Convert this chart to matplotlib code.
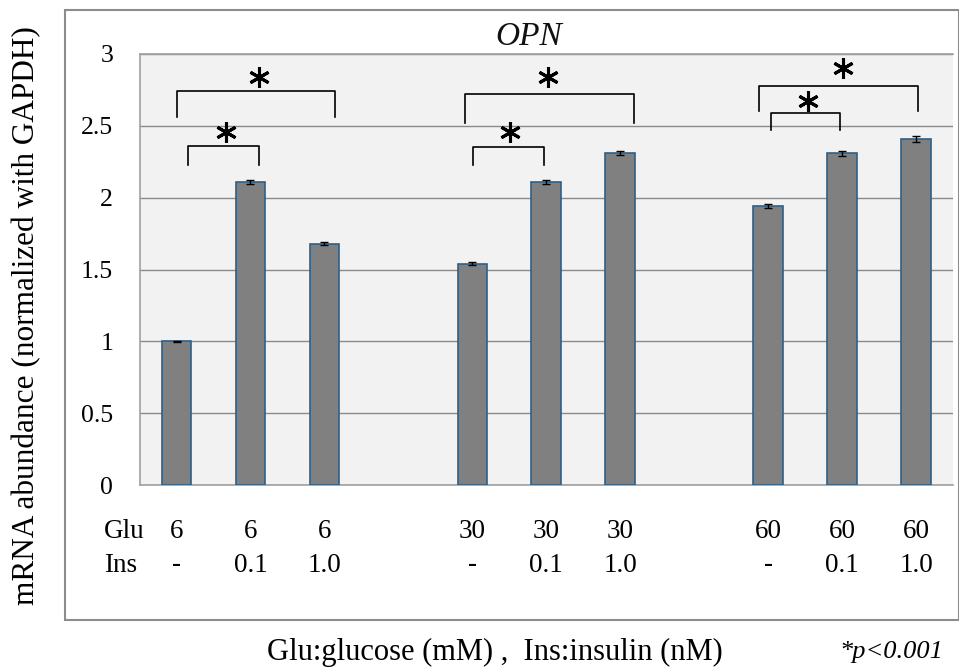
import matplotlib
matplotlib.use("Agg")
import matplotlib.pyplot as plt
from matplotlib.patches import Rectangle
import matplotlib.transforms as mtransforms

# data
glu = ["6", "6", "6", "30", "30", "30", "60", "60", "60"]
ins = ["-", "0.1", "1.0", "-", "0.1", "1.0", "-", "0.1", "1.0"]
values = [1.00, 2.11, 1.68, 1.54, 2.11, 2.31, 1.94, 2.31, 2.41]
errors = [0.005, 0.012, 0.012, 0.010, 0.015, 0.015, 0.015, 0.018, 0.020]
slots = [0, 1, 2, 4, 5, 6, 8, 9, 10]   # category slots, empty slot between groups

# significance brackets: (x_left, x_right, y_top, y_leg_end, star_x, star_y)
brackets = [
    (0.00, 2.14, 2.74, 2.56, 1.12, 2.84),
    (0.16, 1.12, 2.36, 2.23, 0.67, 2.46),
    (3.90, 6.19, 2.72, 2.52, 5.02, 2.84),
    (4.01, 4.97, 2.35, 2.23, 4.51, 2.46),
    (7.88, 10.03, 2.78, 2.60, 9.01, 2.90),
    (8.04, 8.97, 2.59, 2.47, 8.54, 2.67),
]

plt.rcParams['font.family'] = ['Liberation Serif', 'DejaVu Serif']

fig = plt.figure(figsize=(9.59, 6.69), dpi=100)
ax = fig.add_axes([0.1455, 0.275, 0.9937 - 0.1455, 0.9193 - 0.275])
ax.set_facecolor("#f2f2f2")

# outer frame
fig.patches.append(Rectangle((0.0678, 0.0732), 0.9995 - 0.0678, 0.985 - 0.0732,
                             transform=fig.transFigure, fill=False,
                             edgecolor="#8c8c8c", lw=1.5))

ax.bar(slots, values, width=0.4, color="#808080", edgecolor="#2e6088",
       linewidth=1.2, zorder=3)
ax.errorbar(slots, values, yerr=errors, fmt="none", ecolor="black",
            elinewidth=1.0, capsize=3, capthick=1.0, zorder=4)

ax.set_xlim(-0.5, 10.5)
ax.set_ylim(0, 3)
ax.set_yticks([0, 0.5, 1, 1.5, 2, 2.5, 3])
ax.set_yticklabels(["0", "0.5", "1", "1.5", "2", "2.5", "3"], fontsize=18.5)
ax.tick_params(axis="y", length=0, pad=19)
ax.set_xticks([])
ax.grid(axis="y", color="#8a8a8a", lw=1.0, zorder=1)
ax.set_axisbelow(True)
ax.spines["right"].set_visible(False)
for side in ["top", "left", "bottom"]:
    ax.spines[side].set_color("#a0a0a0")
    ax.spines[side].set_linewidth(1.2)

for x1, x2, yt, yl, sx, sy in brackets:
    ax.plot([x1, x1, x2, x2], [yl, yt, yt, yl], color="black", lw=1.2,
            zorder=5, clip_on=False)
    ax.plot([sx], [sy], marker=(6, 2, 0), markersize=15, mew=2.2,
            color="black", zorder=5, clip_on=False)

fig.text(529 / 959, 1 - 37 / 669, "OPN", fontsize=24, style="italic",
         ha="center", va="center", color="#111111")

# condition rows under the bars
trans = mtransforms.blended_transform_factory(ax.transData, fig.transFigure)
row_glu = 1 - 532 / 669
row_ins = 1 - 565 / 669
fig.text(104 / 959, row_glu, "Glu", fontsize=19.5, ha="left", va="center")
fig.text(104 / 959, row_ins, "Ins", fontsize=19.5, ha="left", va="center")
for s, g, i in zip(slots, glu, ins):
    ax.text(s, row_glu, g, transform=trans, fontsize=19.5,
            ha="center", va="center")
    ax.text(s, row_ins, i, transform=trans, fontsize=19.5,
            ha="center", va="center")

fig.text(27 / 959, 1 - 316 / 669, "mRNA abundance (normalized with GAPDH)",
         rotation=90, fontsize=22.5, ha="center", va="center")
fig.text(495 / 959, 1 - 652 / 669, "Glu:glucose (mM) ,  Ins:insulin (nM)",
         fontsize=22, ha="center", va="center")
fig.text(943 / 959, 1 - 652 / 669, "*p<0.001", fontsize=19, style="italic",
         ha="right", va="center")

fig.savefig("out.png", dpi=100)
